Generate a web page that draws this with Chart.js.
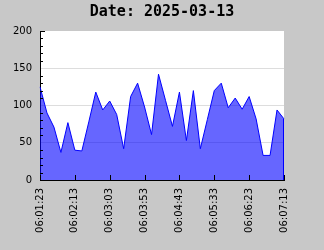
<!DOCTYPE html>
<html><head><meta charset="utf-8">
<script src="https://cdn.jsdelivr.net/npm/chart.js@4"></script>
<style>html,body{margin:0;padding:0;background:#c8c8c8;}canvas{display:block;}</style>
</head><body>
<div style="width:324px;height:250px;position:relative"><canvas id="c" width="324" height="250"></canvas></div>
<script>
const titleText = 'Date: 2025-03-13';
const times = ['06:01:23','06:01:33','06:01:43','06:01:53','06:02:03','06:02:13','06:02:23','06:02:33','06:02:43','06:02:53',
  '06:03:03','06:03:13','06:03:23','06:03:33','06:03:43','06:03:53','06:04:03','06:04:13','06:04:23','06:04:33',
  '06:04:43','06:04:53','06:05:03','06:05:13','06:05:23','06:05:33','06:05:43','06:05:53','06:06:03','06:06:13',
  '06:06:23','06:06:33','06:06:43','06:06:53','06:07:03','06:07:13'];
const values = [125,90,71,37,77,40,39,78,118,94,
  106,88,42,112,130,98,61,142,107,72,
  118,53,120,42,81,120,130,97,110,95,
  112,82,33,33,94,82];
const tickLabels = ['06:01:23','06:02:13','06:03:03','06:03:53','06:04:43','06:05:33','06:06:23','06:07:13'];
const yMin = 0, yMax = 200, yStep = 50, yMinorStep = 10;

const decor = {
  id: 'decor',
  beforeDraw(chart) {
    const {ctx, chartArea: a} = chart;
    ctx.save();
    ctx.fillStyle = '#ffffff';
    ctx.fillRect(a.left, a.top, a.right - a.left, a.bottom - a.top);
    ctx.restore();
  },
  afterDraw(chart) {
    const {ctx, chartArea: a, scales} = chart;
    const ys = scales.y, xs = scales.x;
    ctx.save();
    ctx.strokeStyle = '#000000';
    ctx.lineWidth = 1;
    ctx.beginPath();
    for (let v = yMin + yMinorStep; v <= yMax; v += yMinorStep) {
      if (v % yStep === 0 && v !== yMax) continue;
      const y = Math.round(ys.getPixelForValue(v)) + 0.5;
      const len = (v % yStep === 0) ? 5 : 3;
      ctx.moveTo(a.left, y); ctx.lineTo(a.left + len, y);
    }
    times.forEach((t, i) => {
      if (tickLabels.indexOf(t) >= 0) {
        const x = Math.round(xs.getPixelForValue(i)) + 0.5;
        ctx.moveTo(x, a.bottom); ctx.lineTo(x, a.bottom - 5);
      }
    });
    ctx.stroke();
    const meta = chart.getDatasetMeta(0);
    const last = meta.data[meta.data.length - 1];
    ctx.strokeStyle = '#0000ff';
    ctx.beginPath();
    ctx.moveTo(Math.round(last.x) - 0.5, last.y);
    ctx.lineTo(Math.round(last.x) - 0.5, a.bottom);
    ctx.stroke();
    ctx.restore();
  }
};

new Chart(document.getElementById('c'), {
  type: 'line',
  data: {
    labels: times,
    datasets: [{
      data: values,
      borderColor: '#0000ff',
      borderWidth: 1,
      backgroundColor: 'rgba(0,0,255,0.6)',
      fill: 'origin',
      pointRadius: 0,
      tension: 0
    }]
  },
  options: {
    responsive: false,
    animation: false,
    devicePixelRatio: 1,
    layout: {padding: 0},
    plugins: {
      legend: {display: false},
      tooltip: {enabled: false},
      title: {
        display: true,
        text: titleText,
        color: '#000000',
        font: {family: 'DejaVu Sans Mono', size: 15, weight: 'bold', lineHeight: 1.2},
        padding: {top: 3, bottom: 10}
      }
    },
    scales: {
      x: {
        type: 'category',
        grid: {display: false},
        border: {display: true, color: '#000000', width: 1},
        ticks: {
          autoSkip: false,
          maxRotation: 90,
          minRotation: 90,
          padding: 0,
          color: '#000000',
          font: {family: 'DejaVu Sans', size: 10},
          callback: (v, i) => tickLabels.indexOf(times[i]) >= 0 ? times[i] : ''
        },
        afterFit: s => { s.height = 70; }
      },
      y: {
        min: yMin, max: yMax,
        grid: {
          drawTicks: false,
          color: c => (c.tick && c.tick.value > yMin && c.tick.value < yMax) ? '#dddddd' : 'rgba(0,0,0,0)'
        },
        border: {display: true, color: '#000000', width: 1},
        ticks: {
          stepSize: yStep,
          padding: 8,
          color: '#000000',
          font: {family: 'DejaVu Sans', size: 10}
        },
        afterFit: s => { s.width = 40; }
      },
      yRight: {
        position: 'right',
        display: true,
        grid: {display: false, drawTicks: false},
        border: {display: false},
        ticks: {display: false},
        afterFit: s => { s.width = 40; }
      }
    }
  },
  plugins: [decor]
});
</script>
</body></html>
